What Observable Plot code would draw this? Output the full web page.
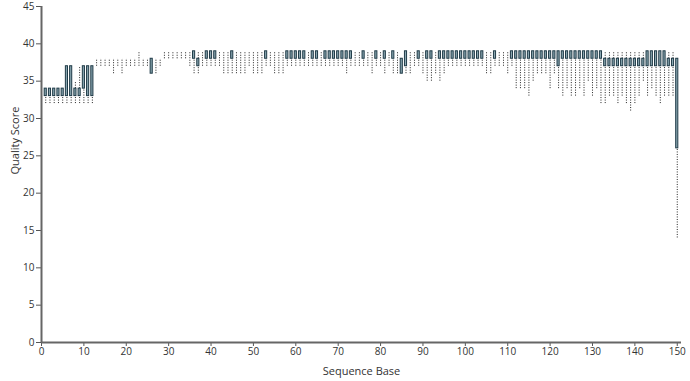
<!DOCTYPE html>
<html><head><meta charset="utf-8">
<script src="https://cdn.jsdelivr.net/npm/d3@7"></script>
<script src="https://cdn.jsdelivr.net/npm/@observablehq/plot@0.6"></script>
<style>body{margin:0;background:#fff;font-family:"Open Sans",sans-serif}</style>
</head><body><div id="chart"></div>
<script>
// per-base quality statistics (base position 1..150)
const q1 = [33,33,33,33,33,33,33,33,33,34,33,33,38,38,38,38,38,38,38,38,38,38,38,38,38,36,38,38,38,38,
 38,38,38,38,38,38,37,38,38,38,38,38,38,38,38,38,38,38,38,38,38,38,38,38,38,38,38,38,38,38,
 38,38,38,38,38,38,38,38,38,38,38,38,38,38,38,38,38,38,38,38,38,38,38,38,36,37,38,38,38,38,
 38,38,38,38,38,38,38,38,38,38,38,38,38,38,38,38,38,38,38,38,38,38,38,38,38,38,38,38,38,38,
 38,37,38,38,38,38,38,38,38,38,38,38,37,37,37,37,37,37,37,37,37,37,37,37,37,37,37,37,37,26];
const q3 = [34,34,34,34,34,37,37,34,34,37,37,37,38,38,38,38,38,38,38,38,38,38,38,38,38,38,38,38,38,38,
 38,38,38,38,38,39,38,38,39,39,39,38,38,38,39,38,38,38,38,38,38,38,39,38,38,38,38,39,39,39,
 39,39,38,39,39,38,39,39,39,39,39,39,39,38,38,39,38,38,39,38,39,38,39,38,38,39,38,38,39,38,
 39,39,38,39,39,39,39,39,39,39,39,39,39,39,38,38,39,38,38,38,39,39,39,39,39,39,39,39,39,39,
 39,39,39,39,39,39,39,39,39,39,39,39,38,38,38,38,38,38,38,38,38,38,39,39,39,39,39,38,38,38];
const lw = [32,32,32,32,32,32,32,32,32,32,32,32,37,37,37,37,36,37,36,37,37,37,37,37,37,36,36,37,38,38,
 38,38,38,38,37,36,36,37,37,37,37,37,36,36,36,36,36,36,37,36,36,36,37,37,36,36,36,37,37,37,
 37,37,37,37,37,37,37,37,37,37,37,36,37,37,37,37,37,36,37,37,36,37,36,36,36,36,36,37,37,36,
 35,35,36,35,36,37,37,37,37,37,37,37,37,37,36,36,37,37,37,36,37,34,34,34,33,35,36,36,36,34,
 36,34,33,34,33,33,34,33,35,33,34,32,32,33,33,32,33,32,31,32,33,35,33,34,33,32,33,33,33,14];
const uw = [34,34,34,34,34,37,37,35,37,37,37,37,38,38,38,38,38,38,38,38,38,38,39,38,38,38,38,38,39,39,
 39,39,39,39,39,39,39,39,39,39,39,39,39,39,39,39,39,39,39,39,39,39,39,39,39,39,39,39,39,39,
 39,39,39,39,39,39,39,39,39,39,39,39,39,39,39,39,39,39,39,39,39,39,39,39,38,39,39,39,39,39,
 39,39,39,39,39,39,39,39,39,39,39,39,39,39,39,39,39,39,39,39,39,39,39,39,39,39,39,39,39,39,
 39,39,39,39,39,39,39,39,39,39,39,39,39,39,39,39,39,39,39,39,39,39,39,39,39,39,39,39,39,38];
const xTicks = [0,10,20,30,40,50,60,70,80,90,100,110,120,130,140,150];
const yTicks = [0,5,10,15,20,25,30,35,40,45];

const data = q1.map((v, i) => ({base: i + 1, q1: v, q3: q3[i], lw: lw[i], uw: uw[i]}));
const half = 0.25;

const plot = Plot.plot({
  width: 690, height: 381,
  marginLeft: 41, marginRight: 9, marginTop: 6, marginBottom: 39,
  style: {fontFamily: "'Open Sans', sans-serif", fontSize: "10px", color: "#333", background: "#fff"},
  x: {domain: [0, 151], ticks: xTicks, label: null},
  y: {domain: [0, 45], ticks: yTicks, label: null},
  marks: [
    Plot.ruleX(data, {x: "base", y1: "lw", y2: "q1", stroke: "#222", strokeWidth: 1, strokeDasharray: "1,1.5"}),
    Plot.ruleX(data, {x: "base", y1: "q3", y2: "uw", stroke: "#222", strokeWidth: 1, strokeDasharray: "1,1.5"}),
    Plot.rect(data, {x1: d => d.base - half, x2: d => d.base + half, y1: "q1", y2: "q3", fill: "#8aa7b1", stroke: "#1f3a47", strokeWidth: 1}),
    Plot.axisX({ticks: xTicks, tickSize: 4, tickPadding: 1, stroke: "#555", fill: "#333", label: null}),
    Plot.axisY({ticks: yTicks, tickSize: 5, tickPadding: 2, stroke: "#555", fill: "#333", label: null}),
    Plot.ruleY([0], {stroke: "#666", strokeWidth: 2}),
    Plot.ruleX([0], {stroke: "#666", strokeWidth: 2}),
    Plot.text(["Sequence Base"], {frameAnchor: "bottom", dy: 32, fontSize: 11, fill: "#333"}),
    Plot.text(["Quality Score"], {frameAnchor: "left", dx: -26, rotate: -90, fontSize: 11, fill: "#333"})
  ]
});
document.getElementById("chart").appendChild(plot);
</script></body></html>
